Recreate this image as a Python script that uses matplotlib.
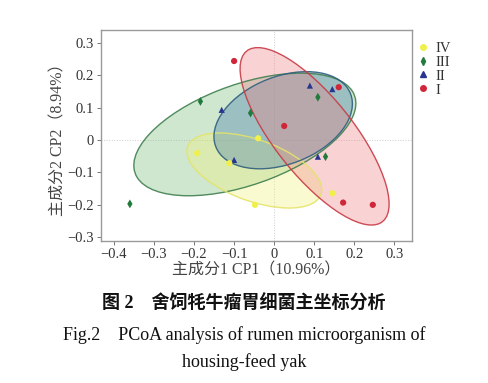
import numpy as np
import matplotlib
matplotlib.use('Agg')
import matplotlib.pyplot as plt
from matplotlib.patches import Ellipse

plt.rcParams['font.family'] = ['Liberation Serif', 'Noto Sans CJK SC']
plt.rcParams['axes.unicode_minus'] = True

# PCoA scores
groups = ['I', 'II', 'III', 'IV']
cp1 = {
    'I': [-0.100, 0.025, 0.161, 0.172, 0.246],
    'II': [-0.131, 0.089, 0.145, -0.100, 0.109],
    'III': [-0.184, -0.059, 0.109, 0.128, -0.360],
    'IV': [-0.192, -0.112, -0.040, -0.048, 0.145],
}
cp2 = {
    'I': [0.244, 0.043, 0.163, -0.194, -0.201],
    'II': [0.093, 0.168, 0.157, -0.062, -0.052],
    'III': [0.119, 0.083, 0.132, -0.052, -0.198],
    'IV': [-0.041, -0.072, 0.005, -0.201, -0.165],
}
xticks = [-0.4, -0.3, -0.2, -0.1, 0, 0.1, 0.2, 0.3]
yticks = [-0.3, -0.2, -0.1, 0, 0.1, 0.2, 0.3]

markers = {'I': 'o', 'II': '^', 'III': 'd', 'IV': 'o'}
pt_colors = {'I': '#d0263a', 'II': '#2a3590', 'III': '#1f7a3c', 'IV': '#f0f04a'}
fill_colors = {'I': '#ee7f86', 'II': '#3e78a8', 'III': '#78b878', 'IV': '#f2f27a'}
edge_colors = {'I': '#c83a45', 'II': '#2f5f7f', 'III': '#3f7f4f', 'IV': '#e4e46a'}
ell_scale = 1.35


def fmt(v):
    if v == 0:
        return '0'
    return ('\u2212' if v < 0 else '') + ('%.1f' % abs(v))


fig = plt.figure(figsize=(4.88, 3.83), dpi=100)
ax = fig.add_axes([0.207, 0.3715, 0.6366, 0.5502])

ax.axhline(0, color='#cccccc', lw=0.7, ls=':', zorder=0)
ax.axvline(0, color='#cccccc', lw=0.7, ls=':', zorder=0)

# ellipses from the covariance of each group
for g in ['III', 'IV', 'II', 'I']:
    x = np.array(cp1[g])
    y = np.array(cp2[g])
    cov = np.cov(x, y)
    vals, vecs = np.linalg.eigh(cov)
    order = vals.argsort()[::-1]
    vals, vecs = vals[order], vecs[:, order]
    ang = np.degrees(np.arctan2(vecs[1, 0], vecs[0, 0]))
    w, h = 2 * ell_scale * np.sqrt(vals)
    e = Ellipse((x.mean(), y.mean()), w, h, angle=ang,
                facecolor=fill_colors[g], edgecolor='none', alpha=0.35, zorder=1)
    ax.add_patch(e)
    e2 = Ellipse((x.mean(), y.mean()), w, h, angle=ang,
                 facecolor='none', edgecolor=edge_colors[g], lw=1.0, alpha=0.9, zorder=2)
    ax.add_patch(e2)

for g in groups:
    ax.scatter(cp1[g], cp2[g], marker=markers[g], s=20, color=pt_colors[g],
               edgecolors='none', zorder=3)

ax.set_xlim(-0.432, 0.343)
ax.set_ylim(-0.312, 0.34)
ax.set_xticks(xticks)
ax.set_xticklabels([fmt(v) for v in xticks])
ax.set_yticks(yticks)
ax.set_yticklabels([fmt(v) for v in yticks])
ax.tick_params(labelsize=10.5, length=3, width=0.7, color='#777777', labelcolor='#333333', pad=2)
for s in ax.spines.values():
    s.set_color('#999999')
    s.set_linewidth(1.0)

ax.set_xlabel('主成分1 CP1（10.96%）', fontsize=11.5, color='#444444', labelpad=1)
ax.set_ylabel('主成分2 CP2（8.94%）', fontsize=11.5, color='#444444', labelpad=1)

# legend on the right
handles = []
for g in ['IV', 'III', 'II', 'I']:
    handles.append(plt.Line2D([], [], marker=markers[g], ls='none', color=pt_colors[g],
                              markersize=4, label=g))
leg = ax.legend(handles=handles, loc='upper left', bbox_to_anchor=(1.0, 0.98),
                frameon=False, fontsize=10.5, handlelength=0.6, handletextpad=0.5,
                labelspacing=0.05, borderaxespad=0.1)
for t in leg.get_texts():
    t.set_color('#333333')

fig.text(0.5, 1 - 304 / 383, '图 2　舍饲牦牛瘤胃细菌主坐标分析', ha='center', va='center',
         fontsize=13, fontweight='bold', color='#111111')
fig.text(0.5, 1 - 335 / 383, 'Fig.2　PCoA analysis of rumen microorganism of', ha='center',
         va='center', fontsize=13, color='#111111')
fig.text(0.5, 1 - 362 / 383, 'housing-feed yak', ha='center', va='center',
         fontsize=13, color='#111111')

fig.savefig('out.png', dpi=100)
